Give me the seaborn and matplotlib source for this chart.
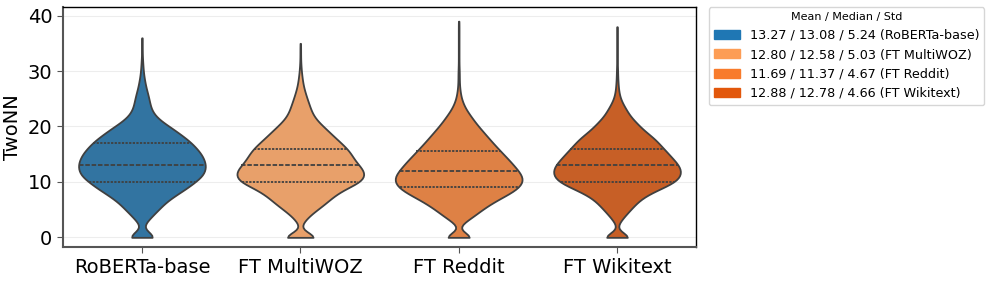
import numpy as np
import pandas as pd
import matplotlib
matplotlib.use("Agg")
import matplotlib.pyplot as plt
import matplotlib.patches as mpatches
import seaborn as sns

models = ["RoBERTa-base", "FT MultiWOZ", "FT Reddit", "FT Wikitext"]
colors = ["#1f77b4", "#fd9d55", "#f87b2b", "#e2570b"]

# TwoNN levels (0..39) and how many samples sit on each level,
# read off the violin widths in the figure
levels = list(range(40))
counts_roberta = [62, 10, 0, 18, 32, 50, 64, 85, 110, 137, 157, 180, 188, 190, 185,
                  177, 163, 148, 128, 105, 82, 56, 38, 28, 24, 21, 17, 12, 9, 6,
                  4, 3, 2, 1, 1, 1, 1]
counts_multiwoz = [84, 0, 0, 13, 28, 50, 72, 90, 110, 140, 180, 190, 188, 172, 158,
                   150, 138, 120, 102, 85, 68, 50, 38, 31, 26, 20, 15, 10, 7, 5,
                   3, 2, 1, 1, 1, 1]
counts_reddit = [66, 0, 0, 24, 48, 68, 92, 120, 152, 176, 188, 186, 174, 160, 146,
                 130, 115, 100, 86, 72, 58, 45, 34, 22, 14, 8, 5, 3, 2, 2,
                 2, 1, 1, 1, 1, 1, 1, 1, 1, 1]
counts_wikitext = [64, 0, 0, 11, 25, 40, 55, 72, 100, 138, 173, 188, 190, 183, 168,
                   153, 138, 123, 108, 85, 68, 52, 37, 28, 18, 10, 6, 4, 3, 2,
                   2, 1, 1, 1, 1, 1, 1, 1, 1]

means = [13.27, 12.80, 11.69, 12.88]
medians = [13.08, 12.58, 11.37, 12.78]
stds = [5.24, 5.03, 4.67, 4.66]

all_counts = [counts_roberta, counts_multiwoz, counts_reddit, counts_wikitext]
frames = []
for name, cnt in zip(models, all_counts):
    vals = np.repeat(levels[:len(cnt)], cnt).astype(float)
    frames.append(pd.DataFrame({"model": name, "TwoNN": vals}))
df = pd.concat(frames, ignore_index=True)

sns.set_style("whitegrid", {"grid.color": "#ededed", "text.color": "black",
                            "axes.labelcolor": "black", "xtick.color": "black",
                            "ytick.color": "black"})

fig = plt.figure(figsize=(9.96, 2.82), dpi=100)
ax = fig.add_axes([0.063, 0.123, 0.636, 0.851])

sns.violinplot(data=df, x="model", y="TwoNN", hue="model", order=models,
               hue_order=models, palette=colors, inner="quart", cut=0,
               density_norm="width", bw_method=0.16, linewidth=1.3,
               linecolor="#404040", legend=False, ax=ax)

ax.set_ylim(-1.8, 41.5)
ax.set_yticks([0, 10, 20, 30, 40])
ax.set_xlabel("")
ax.set_ylabel("TwoNN", fontsize=14, color="black")
ax.tick_params(axis="both", labelsize=14, bottom=True, left=True, length=4,
               color="#555555", labelcolor="black")
ax.xaxis.grid(False)
ax.set_axisbelow(True)
for side in ["top", "right"]:
    ax.spines[side].set_color("black")
    ax.spines[side].set_linewidth(1.0)
for side in ["left", "bottom"]:
    ax.spines[side].set_color("#555555")
    ax.spines[side].set_linewidth(1.5)

handles = [mpatches.Patch(color=c,
                          label=f"{m:.2f} / {md:.2f} / {s:.2f} ({n})")
           for c, m, md, s, n in zip(colors, means, medians, stds, models)]
leg = ax.legend(handles=handles, title="Mean / Median / Std", loc="upper left",
                bbox_to_anchor=(1.02, 1.0), borderaxespad=0, fontsize=9.2,
                title_fontsize=8, frameon=True)
for t in leg.get_texts():
    t.set_color("black")
leg.get_title().set_color("black")

fig.savefig("out.png", dpi=100)
